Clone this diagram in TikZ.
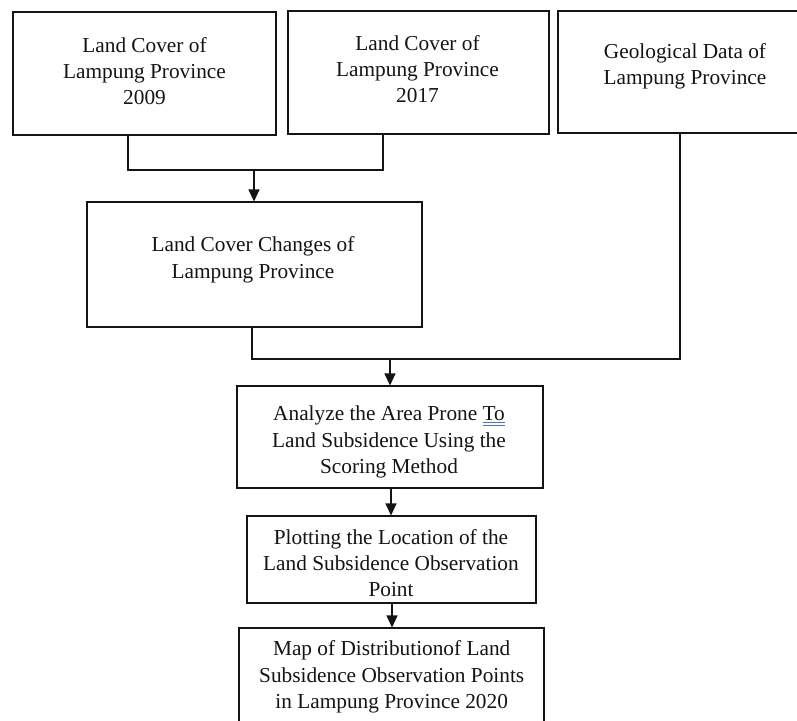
\documentclass[tikz,border=0pt]{standalone}
\usepackage{fontspec}
\setmainfont{Liberation Serif}
\usetikzlibrary{arrows.meta}
\definecolor{ink}{HTML}{141414}
\definecolor{ulblue}{HTML}{4A72C8}
\newcommand\blueuline[1]{\begingroup\setbox0\hbox{#1}%
\rlap{\textcolor{ulblue}{\rule[-1.8pt]{\wd0}{0.7pt}}}%
\rlap{\textcolor{ulblue}{\rule[-4.6pt]{\wd0}{0.7pt}}}\box0\endgroup}
\begin{document}
\begin{tikzpicture}[x=1pt,y=-1pt,
  box/.style={draw=ink,line width=1.1pt,rectangle,inner sep=0pt},
  txt/.style={anchor=north,inner sep=0pt,align=center,text=ink,
    font=\fontsize{21.3pt}{26.3pt}\selectfont},
  conn/.style={draw=ink,line width=1.1pt},
  arr/.style={conn,-{Triangle[width=11pt,length=12pt]}}]
\useasboundingbox (0,0) rectangle (797,720);
\clip (0,0) rectangle (797,720);
\fill[white] (0,0) rectangle (797,720);
% boxes
\node[box,minimum width=263pt,minimum height=123pt] (b1) at (144.5,73.5) {};
\node[box,minimum width=261pt,minimum height=123pt] (b2) at (418.5,72.5) {};
\node[box,minimum width=252pt,minimum height=122pt] (b3) at (684,72) {};
\node[box,minimum width=335pt,minimum height=125pt] (b4) at (254.5,264.5) {};
\node[box,minimum width=306pt,minimum height=102pt] (b5) at (390,437) {};
\node[box,minimum width=289pt,minimum height=87pt] (b6) at (391.5,559.5) {};
\node[box,minimum width=305pt,minimum height=112pt] (b7) at (391.5,684) {};
% texts
\node[txt] (t1) at (144.5,37) {Land Cover of\\Lampung Province\\2009};
\node[txt] (t2) at (417.5,35) {Land Cover of\\Lampung Province\\2017};
\node[txt] (t3) at (685,43) {Geological Data of\\Lampung Province};
\node[txt] (t4) at (253,236.5) {Land Cover Changes of\\Lampung Province};
\node[txt] (t5) at (389,406) {Analyze the Area Prone \blueuline{To}\\Land Subsidence Using the\\Scoring Method};
\node[txt] (t6) at (391,529) {Plotting the Location of the\\Land Subsidence Observation\\Point};
\node[txt] (t7) at (391.7,640.5) {Map of Distributionof Land\\Subsidence Observation Points\\in Lampung Province 2020};
% connectors
\coordinate (j1) at (254,170);
\coordinate (j2) at (390,359);
\draw[conn] ([xshift=-16.5pt]b1.south) |- (j1) -| ([xshift=-35.5pt]b2.south);
\draw[arr] (j1) -- (b4.north -| j1);
\draw[conn] ([xshift=-2.5pt]b4.south) |- (j2) -| ([xshift=-4pt]b3.south);
\draw[arr] (j2) -- (b5.north);
\draw[arr] ([xshift=1pt]b5.south) -- ([xshift=-0.5pt]b6.north);
\draw[arr] ([xshift=0.5pt]b6.south) -- ([xshift=0.5pt]b7.north);
\end{tikzpicture}
\end{document}
